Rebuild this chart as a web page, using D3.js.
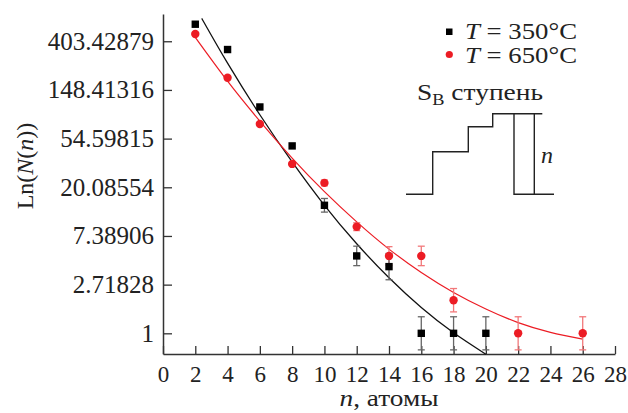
<!DOCTYPE html>
<html><head><meta charset="utf-8">
<script src="https://cdn.jsdelivr.net/npm/d3@7"></script>
<style>
body{margin:0;background:#fff;}
svg text{font-family:"Liberation Serif","Times New Roman",serif;fill:#222;}
</style></head>
<body><svg id="c" width="628" height="413"></svg>
<script>
// ---- data ----
const n350 = [2, 4, 6, 8, 10, 12, 14, 16, 18, 20];
const ln350 = [6.35, 5.83, 4.65, 3.85, 2.63, 1.59, 1.37, 0, 0, 0];
const err350 = [0, 0, 0, 0, 0.14, 0.2, 0.27, 0.34, 0.34, 0.34];

const n650 = [2, 4, 6, 8, 10, 12, 14, 16, 18, 22, 26];
const ln650 = [6.15, 5.25, 4.30, 3.48, 3.09, 2.19, 1.59, 1.59, 0.68, 0, 0];
const err650 = [0, 0, 0, 0, 0.06, 0.08, 0.19, 0.2, 0.24, 0.34, 0.34];

const fitN350 = [2.4, 4, 6, 8, 10, 12, 14, 16, 18, 20];
const fitLn350 = [6.47, 5.55, 4.49, 3.52, 2.63, 1.84, 1.14, 0.53, 0.01, -0.43];
const fitN650 = [2, 4, 6, 8, 10, 12, 14, 16, 18, 20, 22, 24, 26];
const fitLn650 = [6.08, 5.18, 4.36, 3.60, 2.91, 2.29, 1.73, 1.25, 0.84, 0.50, 0.22, 0.02, -0.12];

const xTicks = [0, 2, 4, 6, 8, 10, 12, 14, 16, 18, 20, 22, 24, 26, 28];
const yTickLn = [0, 1, 2, 3, 4, 5, 6];
const yTickLabels = ["1", "2.71828", "7.38906", "20.08554", "54.59815", "148.41316", "403.42879"];
const legendLabels = ["350°C", "650°C"];

// ---- layout ----
const svg = d3.select("#c");
const x = d3.scaleLinear().domain([0, 28]).range([163, 615]);
const y = d3.scaleLinear().domain([-0.425, 6.56]).range([354, 14]);
const axisCol = "#333";
const red = "#ec1c24";

// axes
const gx = svg.append("g").attr("transform", "translate(0,354)")
  .call(d3.axisBottom(x).tickValues(xTicks).tickSizeInner(-8).tickSizeOuter(0).tickPadding(12));
const gy = svg.append("g").attr("transform", "translate(163,0)")
  .call(d3.axisLeft(y).tickValues(yTickLn).tickFormat((d, i) => yTickLabels[i]).tickSizeInner(-9).tickSizeOuter(0).tickPadding(9));
[gx, gy].forEach(g => {
  g.select(".domain").attr("stroke", axisCol).attr("stroke-width", 1.5);
  g.selectAll(".tick line").attr("stroke", axisCol).attr("stroke-width", 1.3);
  g.selectAll(".tick text").attr("font-family", "Liberation Serif").attr("fill", "#222");
});
gx.selectAll(".tick text").attr("font-size", 23);
gy.selectAll(".tick text").attr("font-size", 25);

// fit curves
const line = d3.line().curve(d3.curveNatural);
svg.append("path").attr("d", line(fitN350.map((n, i) => [x(n), y(fitLn350[i])])))
  .attr("fill", "none").attr("stroke", "#111").attr("stroke-width", 1.3);
svg.append("path").attr("d", line(fitN650.map((n, i) => [x(n), y(fitLn650[i])])))
  .attr("fill", "none").attr("stroke", red).attr("stroke-width", 1.2);

// error bars
function errBars(ns, lns, errs, col) {
  const g = svg.append("g").attr("stroke", col).attr("stroke-width", 1.3);
  ns.forEach((n, i) => {
    if (!errs[i]) return;
    const cx = x(n), y1 = y(lns[i] + errs[i]), y2 = y(lns[i] - errs[i]);
    g.append("line").attr("x1", cx).attr("x2", cx).attr("y1", y1).attr("y2", y2);
    g.append("line").attr("x1", cx - 3.5).attr("x2", cx + 3.5).attr("y1", y1).attr("y2", y1);
    g.append("line").attr("x1", cx - 3.5).attr("x2", cx + 3.5).attr("y1", y2).attr("y2", y2);
  });
}
errBars(n650, ln650, err650, "#f2787a");
errBars(n350, ln350, err350, "#666");

// markers
svg.append("g").selectAll("circle").data(n650).join("circle")
  .attr("cx", d => x(d)).attr("cy", (d, i) => y(ln650[i])).attr("r", 4.2).attr("fill", red);
svg.append("g").selectAll("rect").data(n350).join("rect")
  .attr("x", d => x(d) - 3.7).attr("y", (d, i) => y(ln350[i]) - 3.7)
  .attr("width", 7.4).attr("height", 7.4).attr("fill", "#000");

// axis titles
const yt = svg.append("text").attr("transform", "translate(33,166) rotate(-90)")
  .attr("text-anchor", "middle").attr("font-size", 24);
yt.append("tspan").text("Ln(");
yt.append("tspan").attr("font-style", "italic").text("N");
yt.append("tspan").text("(");
yt.append("tspan").attr("font-style", "italic").text("n");
yt.append("tspan").text("))");

const xt = svg.append("text").attr("x", 389).attr("y", 406).attr("text-anchor", "middle").attr("font-size", 24)
  .attr("textLength", 99).attr("lengthAdjust", "spacingAndGlyphs");
xt.append("tspan").attr("font-style", "italic").text("n");
xt.append("tspan").text(", атомы");

// legend
legendLabels.forEach((lab, i) => {
  const by = 38.5 + i * 24;
  if (i === 0) svg.append("rect").attr("x", 446).attr("y", by - 10).attr("width", 6.5).attr("height", 6.5).attr("fill", "#000");
  else svg.append("circle").attr("cx", 449.3).attr("cy", by - 8).attr("r", 3.6).attr("fill", red);
  const t = svg.append("text").attr("x", 465).attr("y", by).attr("font-size", 24)
    .attr("textLength", 112).attr("lengthAdjust", "spacingAndGlyphs");
  t.append("tspan").attr("font-style", "italic").text("T");
  t.append("tspan").text(" = " + lab);
});

// inset: S_B step
const st = svg.append("text").attr("x", 417).attr("y", 100).attr("font-size", 24)
  .attr("textLength", 126).attr("lengthAdjust", "spacingAndGlyphs");
st.append("tspan").text("S");
st.append("tspan").attr("font-size", 16).attr("dy", 5).text("B");
st.append("tspan").attr("dy", -5).text(" ступень");

const inset = svg.append("g").attr("fill", "none").attr("stroke", "#222").attr("stroke-width", 1.4);
inset.append("path").attr("d", "M406,194.3H432.7V151.7H468.3V126.7H492.7V113.7H542.3");
inset.append("path").attr("d", "M514,113.7V194.3H554");
inset.append("path").attr("d", "M534.3,113.7V194.3");
svg.append("text").attr("x", 541).attr("y", 163).attr("font-size", 24).attr("font-style", "italic").text("n");
</script></body></html>
